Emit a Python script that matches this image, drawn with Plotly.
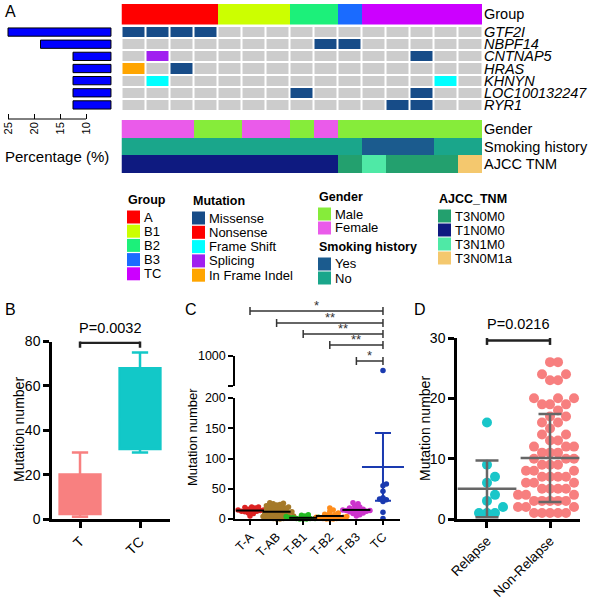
import plotly.graph_objects as go

W, H = 600, 605
FONT = "Liberation Sans, Arial, Helvetica, sans-serif"

# ======================= DATA =======================
# ---- Panel A : oncoprint ----
genes = ["GTF2I", "NBPF14", "CNTNAP5", "HRAS", "KHNYN", "LOC100132247", "RYR1"]
gene_percentage = [25, 18.75, 12.5, 12.5, 12.5, 12.5, 12.5]
percentage_ticks = [25, 20, 15, 10]

group_names = ["A", "B1", "B2", "B3", "TC"]
group_colors = ["#FF0000", "#CCFF00", "#1CF07A", "#1A6BFF", "#CC00FF"]
sample_group = ["A", "A", "A", "A", "B1", "B1", "B1", "B2", "B2", "B3",
                "TC", "TC", "TC", "TC", "TC"]

mutation_names = ["Missense", "Nonsense", "Frame Shift", "Splicing", "In Frame Indel"]
mutation_codes = ["M", "N", "F", "S", "I"]
mutation_colors = ["#174C88", "#FF0000", "#00FFFF", "#A020F0", "#FFA500"]
no_mutation_color = "#CCCCCC"
# one string per gene, one character per sample ('.' = no mutation)
mutation_rows = [
    "MMMM...........",  # GTF2I
    "........MM.....",  # NBPF14
    ".S..........M..",  # CNTNAP5
    "I.M............",  # HRAS
    ".F...........F.",  # KHNYN
    ".......M....M..",  # LOC100132247
    "...........MM..",  # RYR1
]

clinical_rows = ["Gender", "Smoking history", "AJCC TNM"]
gender_names = ["Male", "Female"]
gender_colors = ["#86EC3A", "#EA5BEA"]
sample_gender = ["Female", "Female", "Female", "Male", "Male", "Female", "Female",
                 "Male", "Female", "Male", "Male", "Male", "Male", "Male", "Male"]
smoking_names = ["Yes", "No"]
smoking_colors = ["#1B5B8E", "#1AA68B"]
sample_smoking = ["No"] * 10 + ["Yes", "Yes", "Yes", "No", "No"]
ajcc_names = ["T3N0M0", "T1N0M0", "T3N1M0", "T3N0M1a"]
ajcc_colors = ["#23A06E", "#0E1A80", "#4FE9A6", "#F4C86E"]
sample_ajcc = ["T1N0M0", "T1N0M0", "T1N0M0", "T1N0M0", "T1N0M0", "T1N0M0",
               "T1N0M0", "T1N0M0", "T1N0M0", "T3N0M0", "T3N1M0", "T3N0M0",
               "T3N0M0", "T3N0M0", "T3N0M1a"]

# ---- Panel B : box plot ----
b_groups = ["T", "TC"]
b_lower = [1, 30]
b_q1 = [2.3, 31.5]
b_median = [10, 45]
b_q3 = [20, 68]
b_upper = [30, 75]
b_colors = ["#F88080", "#12C8C8"]
b_pvalue = "P=0.0032"

# ---- Panel C : scatter dot plot ----
c_groups = ["T-A", "T-AB", "T-B1", "T-B2", "T-B3", "TC"]
c_TA = [5, 9, 10, 12, 13, 13, 14, 14, 15, 15, 16, 17, 18, 19, 20, 20]
c_TAB = [0, 0, 1, 1, 2, 2, 3, 3, 4, 5, 5, 6, 7, 8, 8, 9, 10, 10, 11, 12, 12, 13, 14,
         15, 15, 16, 17, 18, 19, 20, 20, 21, 22, 23, 24, 25, 26, 27]
c_TB1 = [0, 0, 0, 1, 1, 1, 2, 2, 3, 4, 5, 6, 7]
c_TB2 = [0, 0, 0, 1, 1, 2, 2, 3, 3, 4, 5, 6, 7, 8, 10, 12, 15, 18]
c_TB3 = [5, 7, 9, 10, 11, 12, 13, 13, 14, 14, 15, 15, 16, 17, 18, 20, 22, 25, 27]
c_TC = [1, 11, 29, 32, 33, 35, 46, 55, 58, 760]
c_means = [14, 12, 2, 5, 15, 86]
c_tc_sd = 56
c_colors = ["#DD2222", "#A57A2A", "#22BB22", "#FF8C1A", "#CC33CC", "#1A3AB0"]
c_sig_from = ["T-A", "T-AB", "T-B1", "T-B2", "T-B3"]
c_sig_labels = ["*", "**", "**", "**", "*"]

# ---- Panel D : scatter dot plot ----
d_groups = ["Relapse", "Non-Relapse"]
d_relapse = [16, 9, 7, 6, 4, 3, 2, 1, 1, 1]
d_nonrelapse = [1, 1, 1, 1, 1, 2, 2, 2, 2, 2, 3, 3, 3, 3, 3, 4, 4, 4, 4, 5, 5, 5, 5,
                6, 6, 6, 6, 7, 7, 7, 7, 8, 8, 8, 8, 9, 9, 9, 10, 10, 10, 11, 11, 11,
                12, 12, 12, 13, 13, 14, 14, 15, 16, 16, 17, 17, 18, 19, 19, 19,
                20, 20, 20, 23, 23, 24, 24, 26, 26]
d_means = [5.0, 10.1]
d_sd = [4.7, 7.3]
d_colors = ["#19C6C9", "#F77F7F"]
d_pvalue = "P=0.0216"


# ======================= HELPERS =======================
def dx(a, b):
    return [a / W, b / W]


def dy(top, bottom):
    return [1 - bottom / H, 1 - top / H]


def pxx(x):
    return x / W


def pxy(y):
    return 1 - y / H


def discrete_scale(colors):
    n = len(colors)
    cs = []
    for i, c in enumerate(colors):
        cs.append([i / n, c])
        cs.append([(i + 1) / n, c])
    return cs


def beeswarm(values, x_px_per_unit, y_px_per_unit, diam, y_cap=None):
    """Deterministic beeswarm layout: horizontal offsets (x units) so that
    dots of the given pixel diameter do not collide."""
    order = sorted(range(len(values)), key=lambda i: values[i])
    placed = []
    offs = [0.0] * len(values)
    step = diam / 2.0
    for i in order:
        v = values[i] if y_cap is None else min(values[i], y_cap)
        y = v * y_px_per_unit
        k = 0
        while True:
            cand = [0.0] if k == 0 else [k * step, -k * step]
            ok = None
            for xc in cand:
                if all((xc - px) ** 2 + (y - py) ** 2 >= diam ** 2 for px, py in placed):
                    ok = xc
                    break
            if ok is not None:
                placed.append((ok, y))
                offs[i] = ok / x_px_per_unit
                break
            k += 1
    return offs


fig = go.Figure()
shapes = []
annotations = []

# ======================= PANEL A =======================
pct_base = 5.2  # where the percentage axis starts (bars grow leftwards from here)
fig.add_trace(go.Bar(
    y=genes, x=[v - pct_base for v in gene_percentage], base=pct_base,
    orientation="h", width=0.68,
    marker=dict(color="#0000FF", line=dict(color="black", width=1)),
    xaxis="x", yaxis="y", hoverinfo="skip"))
# axis line of the percentage scale (only spans the labelled ticks)
shapes.append(dict(type="line", xref="x", yref="paper",
                   x0=max(percentage_ticks), x1=min(percentage_ticks),
                   y0=pxy(119), y1=pxy(119), line=dict(color="black", width=1)))

n_samples = len(sample_group)
code_of = {c: i + 1 for i, c in enumerate(mutation_codes)}
mut_z = [[code_of.get(ch, 0) for ch in row] for row in mutation_rows]
fig.add_trace(go.Heatmap(
    z=mut_z, x=list(range(n_samples)), y=genes,
    colorscale=discrete_scale([no_mutation_color] + mutation_colors),
    zmin=-0.5, zmax=len(mutation_codes) + 0.5, showscale=False,
    xgap=2, ygap=2, xaxis="x3", yaxis="y3", hoverinfo="skip"))

grp_z = [[group_names.index(g) for g in sample_group]]
fig.add_trace(go.Heatmap(
    z=grp_z, x=list(range(n_samples)), y=["Group"],
    colorscale=discrete_scale(group_colors),
    zmin=-0.5, zmax=len(group_names) - 0.5, showscale=False,
    xaxis="x3", yaxis="y4", hoverinfo="skip"))

clin_colors = gender_colors + smoking_colors + ajcc_colors
off_s = len(gender_names)
off_a = off_s + len(smoking_names)
clin_z = [
    [gender_names.index(g) for g in sample_gender],
    [off_s + smoking_names.index(s) for s in sample_smoking],
    [off_a + ajcc_names.index(a) for a in sample_ajcc],
]
fig.add_trace(go.Heatmap(
    z=clin_z, x=list(range(n_samples)), y=clinical_rows,
    colorscale=discrete_scale(clin_colors),
    zmin=-0.5, zmax=len(clin_colors) - 0.5, showscale=False,
    xaxis="x3", yaxis="y5", hoverinfo="skip"))

# legends of panel A
legend_blocks = [
    ("Group", group_names, group_colors, 127, 200, 217, 14.2),
    ("Mutation", mutation_names, mutation_colors, 192, 201, 218, 14.3),
    ("Gender", gender_names, gender_colors, 318, 197, 214, 14.0),
    ("Smoking history", smoking_names, smoking_colors, 318, 247, 264, 14.0),
    ("AJCC_TNM", ajcc_names, ajcc_colors, 438, 199, 216, 14.0),
]
for title, names, colors, lx, ty, iy, pitch in legend_blocks:
    annotations.append(dict(x=pxx(lx - 1), y=pxy(ty), xref="paper", yref="paper",
                            text=f"<b>{title}</b>", showarrow=False,
                            xanchor="left", yanchor="middle",
                            font=dict(size=12.5, family=FONT, color="black")))
    for k, (nm, col) in enumerate(zip(names, colors)):
        cy = iy + k * pitch
        shapes.append(dict(type="rect", xref="paper", yref="paper",
                           x0=pxx(lx), x1=pxx(lx + 13), y0=pxy(cy + 6.5), y1=pxy(cy - 6.5),
                           fillcolor=col, line=dict(width=0)))
        annotations.append(dict(x=pxx(lx + 15), y=pxy(cy), xref="paper", yref="paper",
                                text=nm, showarrow=False, xanchor="left", yanchor="middle",
                                font=dict(size=13, family=FONT, color="black")))

annotations.append(dict(x=pxx(57), y=pxy(157), xref="paper", yref="paper",
                        text="Percentage (%)", showarrow=False,
                        xanchor="center", yanchor="middle",
                        font=dict(size=15, family=FONT, color="black")))

# ======================= PANEL B =======================
for i, g in enumerate(b_groups):
    fig.add_trace(go.Box(
        x=[i], q1=[b_q1[i]], median=[b_median[i]], q3=[b_q3[i]],
        lowerfence=[b_lower[i]], upperfence=[b_upper[i]],
        width=0.68, whiskerwidth=0.4, boxpoints=False,
        fillcolor=b_colors[i], line=dict(color=b_colors[i], width=2.5),
        xaxis="x6", yaxis="y6", hoverinfo="skip", name=g))

b_br_y = 79.4
shapes.append(dict(type="line", xref="x6", yref="y6", x0=0, x1=1, y0=b_br_y, y1=b_br_y,
                   line=dict(color="#222", width=2.5)))
for xe in (0, 1):
    shapes.append(dict(type="line", xref="x6", yref="y6", x0=xe, x1=xe,
                       y0=b_br_y - 2.2, y1=b_br_y + 2.2, line=dict(color="#222", width=2.5)))
annotations.append(dict(x=0.5, y=b_br_y, xref="x6", yref="y6", text=b_pvalue,
                        showarrow=False, xanchor="center", yanchor="bottom", yshift=5,
                        font=dict(size=14.5, family=FONT, color="black")))

# ======================= PANEL C =======================
c_values = [c_TA, c_TAB, c_TB1, c_TB2, c_TB3, c_TC]
C_XPU, C_YPU = 26.6, 0.605
for i, vals in enumerate(c_values):
    offs = beeswarm(vals, C_XPU, C_YPU, 3.4, y_cap=200)
    lo_x = [i + o for v, o in zip(vals, offs) if v <= 200]
    lo_y = [v for v in vals if v <= 200]
    hi_x = [i for v in vals if v > 200]
    hi_y = [v for v in vals if v > 200]
    fig.add_trace(go.Scatter(x=lo_x, y=lo_y, mode="markers", cliponaxis=False,
                             marker=dict(size=5.5, color=c_colors[i]),
                             xaxis="x7", yaxis="y7", hoverinfo="skip"))
    if hi_y:
        fig.add_trace(go.Scatter(x=hi_x, y=hi_y, mode="markers", cliponaxis=False,
                                 marker=dict(size=5.5, color=c_colors[i]),
                                 xaxis="x7", yaxis="y8", hoverinfo="skip"))

n_c = len(c_groups)
fig.add_trace(go.Scatter(
    x=list(range(n_c - 1)), y=c_means[:-1], mode="markers", cliponaxis=False,
    marker=dict(symbol="line-ew", size=20, line=dict(width=2, color="black")),
    xaxis="x7", yaxis="y7", hoverinfo="skip"))
fig.add_trace(go.Scatter(
    x=[n_c - 1], y=[c_means[-1]], mode="markers", cliponaxis=False,
    marker=dict(symbol="line-ew", size=30, line=dict(width=2, color=c_colors[-1])),
    error_y=dict(type="data", array=[c_tc_sd], color=c_colors[-1], thickness=2, width=8),
    xaxis="x7", yaxis="y7", hoverinfo="skip"))

c_bracket_px = [311, 323, 334, 345, 361]
for lab, g, ypx in zip(c_sig_labels, c_sig_from, c_bracket_px):
    x0 = c_groups.index(g)
    x1 = n_c - 1
    shapes.append(dict(type="line", xref="x7", yref="paper", x0=x0, x1=x1,
                       y0=pxy(ypx), y1=pxy(ypx), line=dict(color="#333", width=1.5)))
    for xe in (x0, x1):
        shapes.append(dict(type="line", xref="x7", yref="paper", x0=xe, x1=xe,
                           y0=pxy(ypx - 4), y1=pxy(ypx + 4),
                           line=dict(color="#333", width=1.5)))
    annotations.append(dict(x=(x0 + x1) / 2, y=pxy(ypx), xref="x7", yref="paper",
                            text=lab, showarrow=False, xanchor="center", yanchor="bottom",
                            yshift=-4, font=dict(size=13, family=FONT, color="#333")))

# ======================= PANEL D =======================
d_values = [d_relapse, d_nonrelapse]
D_XPU, D_YPU = 63.0, 6.03
for i, vals in enumerate(d_values):
    offs = beeswarm(vals, D_XPU, D_YPU, 8.0)
    fig.add_trace(go.Scatter(x=[i + o for o in offs], y=vals, mode="markers",
                             cliponaxis=False,
                             marker=dict(size=10, color=d_colors[i]),
                             xaxis="x9", yaxis="y9", hoverinfo="skip"))
fig.add_trace(go.Scatter(
    x=[0, 1], y=d_means, mode="markers", cliponaxis=False,
    marker=dict(symbol="line-ew", size=42, line=dict(width=2.5, color="#666666")),
    error_y=dict(type="data", array=d_sd, color="#666666", thickness=2.5, width=11.5),
    xaxis="x9", yaxis="y9", hoverinfo="skip"))

d_br_y = 29.6
shapes.append(dict(type="line", xref="x9", yref="y9", x0=0, x1=1, y0=d_br_y, y1=d_br_y,
                   line=dict(color="#222", width=2.5)))
for xe in (0, 1):
    shapes.append(dict(type="line", xref="x9", yref="y9", x0=xe, x1=xe,
                       y0=d_br_y - 0.75, y1=d_br_y + 0.75, line=dict(color="#222", width=2.5)))
annotations.append(dict(x=0.5, y=d_br_y, xref="x9", yref="y9", text=d_pvalue,
                        showarrow=False, xanchor="center", yanchor="bottom", yshift=6,
                        font=dict(size=14.5, family=FONT, color="black")))

# ======================= labels / titles =======================
for lab, x, y in [("A", 10, 12), ("B", 10, 309), ("C", 191, 309), ("D", 420, 309)]:
    annotations.append(dict(x=pxx(x), y=pxy(y), xref="paper", yref="paper", text=lab,
                            showarrow=False, xanchor="center", yanchor="middle",
                            font=dict(size=16, family=FONT, color="black")))
for x, y, sz in [(19, 430, 14), (193, 437, 13), (425, 429, 14)]:
    annotations.append(dict(x=pxx(x), y=pxy(y), xref="paper", yref="paper",
                            text="Mutation number", textangle=-90, showarrow=False,
                            xanchor="center", yanchor="middle",
                            font=dict(size=sz, family=FONT, color="black")))

# ======================= AXES =======================
base = dict(showgrid=False, zeroline=False, automargin=False)
hidden = dict(visible=False, showgrid=False, zeroline=False, automargin=False)


def line_axis(lw, tl, fs, **kw):
    d = dict(showgrid=False, zeroline=False, automargin=False, showline=True,
             linecolor="black", linewidth=lw, ticks="outside", ticklen=tl, tickwidth=lw,
             tickcolor="black", tickfont=dict(size=fs, family=FONT, color="black"))
    d.update(kw)
    return d


label_font = dict(size=14.5, family=FONT, color="black")
layout = dict(
    width=W, height=H, margin=dict(l=0, r=0, t=0, b=0, autoexpand=False),
    paper_bgcolor="white", plot_bgcolor="rgba(0,0,0,0)",
    showlegend=False, hovermode=False, template="none",
    font=dict(family=FONT, color="black", size=12),
    shapes=shapes, annotations=annotations,
    # A: percentage bars (axis drawn at the free position below the rows)
    xaxis=dict(base, domain=dx(0, 112), range=[26.54, 5.0], type="linear",
               anchor="free", position=pxy(119), showline=False,
               ticks="inside", ticklen=5, tickwidth=1, tickcolor="black",
               tickmode="array", tickvals=percentage_ticks, tickangle=-90,
               tickfont=dict(size=11, family=FONT, color="black")),
    yaxis=dict(hidden, domain=dy(26, 111), type="category", autorange="reversed",
               anchor="x"),
    # A: oncoprint
    xaxis3=dict(hidden, domain=dx(121.5, 482), range=[-0.5, n_samples - 0.5], anchor="y3"),
    yaxis3=dict(base, domain=dy(26, 111), type="category", autorange="reversed",
                anchor="x3", side="right", ticks="", showline=False,
                tickmode="array", tickvals=genes, ticktext=[f"<i>{g}</i>" for g in genes],
                ticklabelstandoff=1, tickfont=label_font),
    yaxis4=dict(base, domain=dy(4, 24.5), type="category", anchor="x3", side="right",
                ticks="", showline=False, ticklabelstandoff=1,
                tickmode="array", tickvals=["Group"], ticktext=["Group"],
                tickfont=label_font),
    yaxis5=dict(base, domain=dy(120, 173), type="category", autorange="reversed",
                anchor="x3", side="right", ticks="", showline=False, ticklabelstandoff=1,
                tickmode="array", tickvals=clinical_rows, ticktext=clinical_rows,
                tickfont=label_font),
    # B
    xaxis6=line_axis(2.5, 6, 14, domain=dx(52, 170), range=[-0.467, 1.5], anchor="y6",
                     tickmode="array", tickvals=[0, 1], ticktext=b_groups, tickangle=-45),
    yaxis6=line_axis(2.5, 6, 14, domain=dy(341.5, 519), range=[0, 80], anchor="x6",
                     tickmode="array", tickvals=[0, 20, 40, 60, 80]),
    # C
    xaxis7=line_axis(1.5, 4, 12.5, domain=dx(235, 400), range=[-0.564, 5.64], anchor="y7",
                     tickmode="array", tickvals=list(range(n_c)), ticktext=c_groups,
                     tickangle=-45),
    yaxis7=line_axis(1.5, 5, 12.5, domain=dy(398, 519), range=[0, 200], anchor="x7",
                     tickmode="array", tickvals=[0, 50, 100, 150, 200]),
    yaxis8=line_axis(1.5, 5, 12.5, domain=dy(356, 386), range=[500, 1000], anchor="x7",
                     tickmode="array", tickvals=[500, 1000], ticktext=["", "1000"]),
    # D
    xaxis9=line_axis(2.5, 6, 13.5, domain=dx(457, 580), range=[-0.476, 1.476], anchor="y9",
                     tickmode="array", tickvals=[0, 1], ticktext=d_groups, tickangle=-45),
    yaxis9=line_axis(2.5, 6, 14, domain=dy(338, 519), range=[0, 30], anchor="x9",
                     tickmode="array", tickvals=[0, 10, 20, 30]),
)
fig.update_layout(**layout)
fig.write_html("out.html", config={"displayModeBar": False},
               post_script="document.body.style.margin='0';")
